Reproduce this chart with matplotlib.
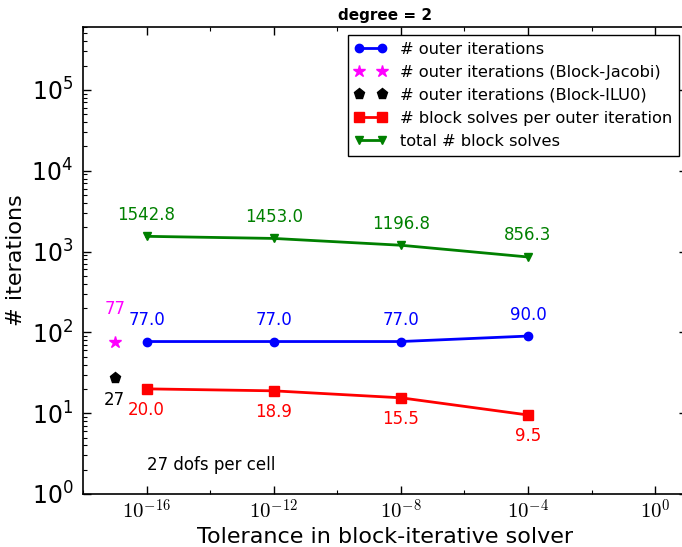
import matplotlib
matplotlib.use('Agg')
import matplotlib.pyplot as plt
from matplotlib.ticker import LogLocator, NullFormatter

# tolerances of the block-iterative solver
tolerances = [1e-16, 1e-12, 1e-8, 1e-4]
outer_iterations = [77.0, 77.0, 77.0, 90.0]
block_solves_per_outer = [20.0, 18.9, 15.5, 9.5]
total_block_solves = [1542.8, 1453.0, 1196.8, 856.3]

# reference preconditioners (exact block solves)
ref_tolerance = 1e-17
jacobi_iterations = 77
ilu0_iterations = 27

magenta = '#ff00ff'

fig = plt.figure(figsize=(6.82, 5.47), dpi=100)
ax = fig.add_axes([0.1217, 0.0969, 0.8856, 0.8537])

ax.loglog(tolerances, outer_iterations, 'b-o', lw=2, ms=6, mec='b', label='# outer iterations')
ax.loglog([ref_tolerance], [jacobi_iterations], '*', color=magenta, ms=9, mec=magenta,
          label='# outer iterations (Block-Jacobi)')
ax.loglog([ref_tolerance], [ilu0_iterations], 'kp', ms=8, label='# outer iterations (Block-ILU0)')
ax.loglog(tolerances, block_solves_per_outer, 'r-s', lw=2, ms=7, mec='r', label='# block solves per outer iteration')
ax.loglog(tolerances, total_block_solves, '-v', color='g', mec='g', lw=2, ms=6, label='total # block solves')

# value labels
for x, y in zip(tolerances, outer_iterations):
    ax.annotate('%.1f' % y, (x, y), xytext=(0, 9), textcoords='offset points',
                ha='center', va='bottom', color='b', fontsize=12)
for x, y in zip(tolerances, block_solves_per_outer):
    ax.annotate('%.1f' % y, (x, y), xytext=(0, -9), textcoords='offset points',
                ha='center', va='top', color='r', fontsize=12)
for x, y in zip(tolerances, total_block_solves):
    ax.annotate('%.1f' % y, (x, y), xytext=(0, 9), textcoords='offset points',
                ha='center', va='bottom', color='g', fontsize=12)
ax.annotate('%d' % jacobi_iterations, (ref_tolerance, jacobi_iterations), xytext=(0, 17),
            textcoords='offset points', ha='center', va='bottom', color=magenta, fontsize=12)
ax.annotate('%d' % ilu0_iterations, (ref_tolerance, ilu0_iterations), xytext=(0, -9),
            textcoords='offset points', ha='center', va='top', color='k', fontsize=12)

ax.text(1e-16, 2.3, '27 dofs per cell', fontsize=12, ha='left', va='center')

ax.set_xlim(1e-18, 1e1)
ax.set_ylim(1e0, 6e5)

ax.set_xticks([1e-16, 1e-12, 1e-8, 1e-4, 1e0])
ax.set_xticklabels([r'$10^{-16}$', r'$10^{-12}$', r'$10^{-8}$', r'$10^{-4}$', r'$10^{0}$'])
ax.set_xticks([1e-18, 1e-14, 1e-10, 1e-6, 1e-2], minor=True)
ax.xaxis.set_minor_formatter(NullFormatter())
for lab in ax.get_xticklabels():
    lab.set_math_fontfamily('cm')
    lab.set_fontsize(15)

ax.set_yticks([1e0, 1e1, 1e2, 1e3, 1e4, 1e5])
ax.yaxis.set_minor_locator(LogLocator(base=10, subs=range(2, 10), numticks=20))
ax.yaxis.set_minor_formatter(NullFormatter())
for lab in ax.get_yticklabels():
    lab.set_fontsize(17)

ax.tick_params(which='both', direction='in', top=True, right=True)
ax.tick_params(which='major', length=6, width=1)
ax.tick_params(axis='y', which='major', pad=7)
ax.tick_params(axis='x', which='major', pad=3)
ax.tick_params(which='minor', length=3, width=0.8)
for s in ax.spines.values():
    s.set_linewidth(1.2)

ax.set_xlabel('Tolerance in block-iterative solver', fontsize=16, labelpad=3)
ax.set_ylabel('# iterations', fontsize=16)
ax.set_title('degree = 2', fontsize=11, fontweight='bold', pad=5)

leg = ax.legend(loc='upper right', numpoints=2, fontsize=11.7, fancybox=False,
                edgecolor='k', framealpha=1, borderaxespad=0.5, handlelength=2.0)
leg.get_frame().set_linewidth(1)

fig.savefig('out.png', dpi=100)
